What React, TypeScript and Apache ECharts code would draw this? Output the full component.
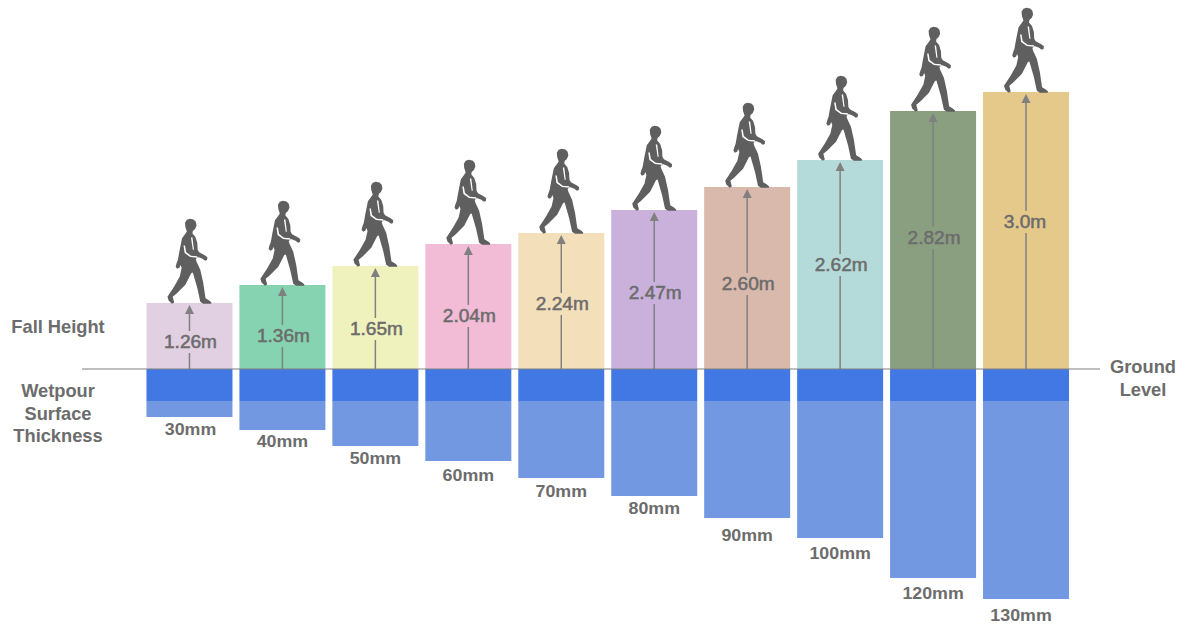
import React, { useEffect, useRef } from "react";
import * as echarts from "echarts";

const thicknessLabels = ["30mm", "40mm", "50mm", "60mm", "70mm", "80mm", "90mm", "100mm", "120mm", "130mm"];
const fallLabels = ["1.26m", "1.36m", "1.65m", "2.04m", "2.24m", "2.47m", "2.60m", "2.62m", "2.82m", "3.0m"];
// Drawn bar heights (the source graphic is not to scale with its labels)
const fallBars = [66, 84, 103, 125, 136, 159, 182, 209, 258, 277];
const fallLabelLevels = [27, 33, 40, 53, 65, 76, 85, 104, 131, 147];
const fallColors = ["#e1cfe2", "#85d3b0", "#eff2bd", "#f2bbd6", "#f3e0bb", "#c9b1dc", "#d8b9ab", "#b4dbd9", "#8a9f80", "#e5c98b"];
const depthBars = [48, 61, 77, 92, 109, 127, 149, 169, 209, 230];
const depthLabelLevels = [60, 72, 89, 106, 122, 139, 166, 184, 224, 246];
const surfaceBand = 32;

const WALKER =
  "path://M72 8 L82 10 L88 17 L90 28 L86 38 L80 44 L79 52 L87 62 L92 80 L93 100 L97 108 L112 117 L119 123 L118 131 L113 133 L106 127 L94 122 L88 128 L90 136 L100 160 L108 200 L114 245 L124 252 L130 258 L129 262 L108 262 L100 256 L92 215 L80 168 L76 170 L60 205 L36 232 L26 241 L30 258 L24 262 L15 252 L12 241 L30 210 L45 180 L50 155 L47 146 L44 154 L38 157 L34 151 L36 142 L40 130 L44 105 L51 66 L59 54 L64 46 L60 32 L59 20 L64 11 Z " +
  "M55 88 L58 110 L73 122 L92 124 L92 120 L75 118 L62 107 L59 88 Z " +
  "M75 64 L80 100 L83 100 L79 64 Z";

const FONT = "'Liberation Sans', Arial, sans-serif";
const TEXT = "#6c6c6c";
const LINE = "#808080";

export default function App() {
  const ref = useRef<HTMLDivElement>(null);
  useEffect(() => {
    document.body.style.margin = "0";
    document.body.style.background = "#fff";
    const chart = echarts.init(ref.current!, null, { renderer: "svg" });
    const side = { fill: TEXT, fontFamily: FONT, fontWeight: "bold", fontSize: 17.5, textAlign: "center", textVerticalAlign: "middle" };
    chart.setOption({
      animation: false,
      backgroundColor: "#ffffff",
      grid: { left: 143, width: 929.5, top: 0, height: 627 },
      xAxis: { type: "category", data: thicknessLabels, show: false },
      yAxis: { type: "value", min: -258, max: 369, show: false },
      graphic: [
        { type: "line", z: 5, shape: { x1: 82, y1: 369, x2: 1100, y2: 369 }, style: { stroke: LINE, lineWidth: 1.2 } },
        { type: "text", x: 58, y: 327, scaleX: 1.045, style: { ...side, text: "Fall Height" } },
        { type: "text", x: 58, y: 414, scaleX: 1.045, style: { ...side, text: "Wetpour\nSurface\nThickness", lineHeight: 22.5 } },
        { type: "text", x: 1143, y: 379, scaleX: 1.045, style: { ...side, text: "Ground\nLevel", lineHeight: 23 } },
      ],
      series: [
        {
          name: "Fall height",
          type: "bar",
          stack: "all",
          barWidth: 86,
          data: fallBars.map((v, i) => ({ value: v, itemStyle: { color: fallColors[i] } })),
        },
        {
          name: "Surface",
          type: "bar",
          stack: "all",
          barWidth: 86,
          itemStyle: { color: "#4178e4" },
          data: depthBars.map(() => -surfaceBand),
        },
        {
          name: "Thickness",
          type: "bar",
          stack: "all",
          barWidth: 86,
          itemStyle: { color: "#7398e2" },
          data: depthBars.map((v) => -(v - surfaceBand)),
        },
        {
          name: "Walker",
          type: "scatter",
          z: 4,
          symbol: WALKER,
          symbolSize: [44, 85],
          symbolOffset: [0, "-49%"],
          silent: true,
          itemStyle: { color: "#5f5f5f", opacity: 1 },
          data: fallBars.map((v, i) => [i, v]),
        },
        {
          name: "Fall arrows",
          type: "custom",
          z: 6,
          silent: true,
          encode: { x: 0, y: 1 },
          data: fallBars.map((v, i) => [i, v, fallLabelLevels[i]]),
          renderItem: (_p: any, api: any) => {
            const i = api.value(0);
            const [x, top] = api.coord([i, api.value(1)]);
            const [, mid] = api.coord([i, api.value(2)]);
            const [, base] = api.coord([i, 0]);
            const tip = top + 2;
            return {
              type: "group",
              children: [
                { type: "line", shape: { x1: x, y1: base, x2: x, y2: mid + 11 }, style: { stroke: LINE, lineWidth: 1.5 } },
                { type: "line", shape: { x1: x, y1: mid - 11, x2: x, y2: tip + 8 }, style: { stroke: LINE, lineWidth: 1.5 } },
                { type: "polygon", shape: { points: [[x, tip], [x - 4.5, tip + 9], [x + 4.5, tip + 9]] }, style: { fill: LINE } },
                {
                  type: "text",
                  x: x + (i === 9 ? -1 : 1),
                  y: mid,
                  scaleX: 1.09,
                  style: {
                    text: fallLabels[i],
                    fill: TEXT,
                    stroke: TEXT,
                    lineWidth: 0.5,
                    fontFamily: FONT,
                    fontSize: 17.5,
                    textAlign: "center",
                    textVerticalAlign: "middle",
                  },
                },
              ],
            };
          },
        },
        {
          name: "Thickness labels",
          type: "custom",
          z: 6,
          silent: true,
          encode: { x: 0, y: 1 },
          data: depthBars.map((_v, i) => [i, -depthLabelLevels[i]]),
          renderItem: (_p: any, api: any) => {
            const i = api.value(0);
            const [x, y] = api.coord([i, api.value(1)]);
            return {
              type: "text",
              x: x + (i === 9 ? -5 : i === 0 ? 1 : 0),
              y,
              scaleX: 1.08,
              style: {
                text: thicknessLabels[i],
                fill: TEXT,
                fontFamily: FONT,
                fontWeight: "bold",
                fontSize: 16.5,
                textAlign: "center",
                textVerticalAlign: "middle",
              },
            };
          },
        },
      ],
    });
    return () => chart.dispose();
  }, []);
  return <div ref={ref} style={{ position: "absolute", left: 0, top: 0, width: 1186, height: 627 }} />;
}
